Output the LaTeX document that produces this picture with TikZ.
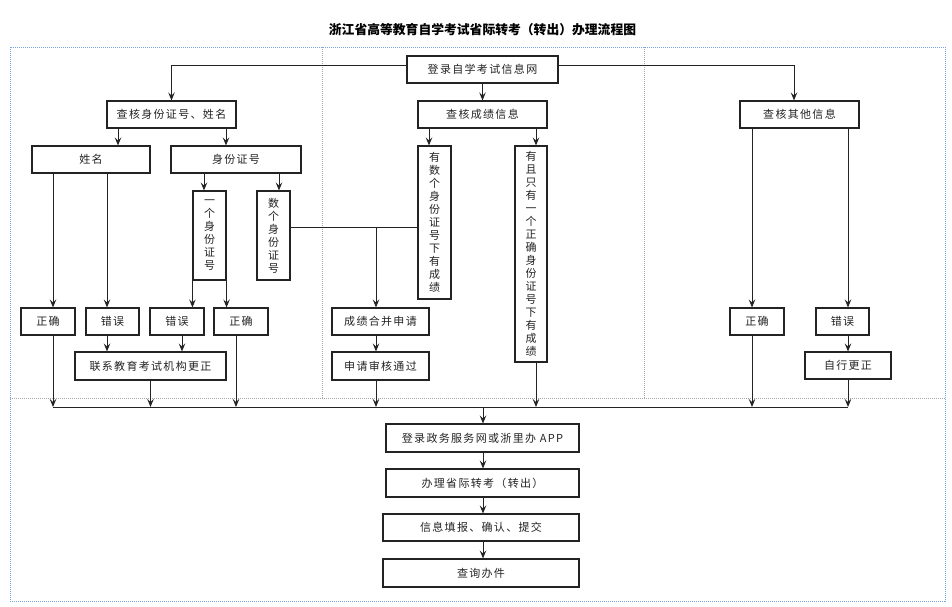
\documentclass[tikz,border=0pt]{standalone}
\usepackage{fontspec}
\newfontfamily\cjk[LetterSpace=12]{Noto Sans CJK SC}
\newfontfamily\cjkv{Noto Sans CJK SC}
\usetikzlibrary{arrows.meta}
\definecolor{framblue}{RGB}{120,165,225}
\definecolor{lanegray}{RGB}{165,165,165}
\definecolor{ink}{RGB}{35,35,35}

\tikzset{
  kuang/.style={draw=ink, line width=1.1pt, inner sep=0pt, text=ink,
    font=\cjk\fontsize{11}{13}\selectfont},
  shu/.style={kuang, font=\cjkv\fontsize{11}{13}\selectfont, align=center},
  jt/.style={draw=ink, line width=0.95pt, -{Stealth[length=8pt,width=6.5pt,inset=3pt]}},
  xian/.style={draw=ink, line width=0.95pt},
  dian/.style={line width=0.9pt, dash pattern=on 1pt off 1pt},
}

\begin{document}
\begin{tikzpicture}[x=1pt,y=-1pt]
  \useasboundingbox (0,0) rectangle (952,606);

  % Rahmen
  \draw[dian, framblue] (10,47) rectangle (945,601);
  \draw[dian, lanegray] (10,398) -- (945,398);
  \draw[dian, lanegray] (322,47) -- (322,398);
  \draw[dian, lanegray] (644,47) -- (644,398);

  \node[font=\cjkv\bfseries\fontsize{12.8}{14}\selectfont] (biaoti) at (482.5,30)
    {浙江省高等教育自学考试省际转考（转出）办理流程图};

  % obere Reihe
  \node[kuang, minimum width=151pt, minimum height=27pt] (dl) at (482.5,69.5) {登录自学考试信息网};
  \node[kuang, minimum width=129pt, minimum height=27pt] (hdsf) at (171.5,114.5) {查核身份证号、姓名};
  \node[kuang, minimum width=129pt, minimum height=27pt] (hdcj) at (482.5,114.5) {查核成绩信息};
  \node[kuang, minimum width=119pt, minimum height=27pt] (qt) at (799.5,114.5) {查核其他信息};

  % linke Spalte
  \node[kuang, minimum width=118pt, minimum height=27pt] (xm) at (91,159.5) {姓名};
  \node[kuang, minimum width=130pt, minimum height=27pt] (sfzh) at (236,159.5) {身份证号};
  \node[shu, minimum width=33pt, minimum height=89pt] (yg) at (209.5,235.5) {一\\个\\身\\份\\证\\号};
  \node[shu, minimum width=33pt, minimum height=89pt] (sg) at (273.5,235.5) {数\\个\\身\\份\\证\\号};
  \node[kuang, minimum width=54pt, minimum height=27pt] (zq1) at (48,321.5) {正确};
  \node[kuang, minimum width=53pt, minimum height=27pt] (cw1) at (112.5,321.5) {错误};
  \node[kuang, minimum width=54pt, minimum height=27pt] (cw2) at (177,321.5) {错误};
  \node[kuang, minimum width=54pt, minimum height=27pt] (zq2) at (241,321.5) {正确};
  \node[kuang, minimum width=151pt, minimum height=28pt] (lx) at (150.5,366) {联系教育考试机构更正};

  % mittlere Spalte
  \node[shu, minimum width=33pt, minimum height=153pt] (ysg) at (434.5,222.5)
    {有\\数\\个\\身\\份\\证\\号\\下\\有\\成\\绩};
  \node[shu, minimum width=32pt, minimum height=216pt] (yzq) at (531,254)
    {有\\且\\只\\有\\一\\个\\正\\确\\身\\份\\证\\号\\下\\有\\成\\绩};
  \node[kuang, minimum width=97pt, minimum height=27pt] (hb) at (380.5,321.5) {成绩合并申请};
  \node[kuang, minimum width=97pt, minimum height=28pt] (sh) at (380.5,366) {申请审核通过};

  % rechte Spalte
  \node[kuang, minimum width=54pt, minimum height=27pt] (zq3) at (757,321.5) {正确};
  \node[kuang, minimum width=53pt, minimum height=27pt] (cw3) at (842.5,321.5) {错误};
  \node[kuang, minimum width=86pt, minimum height=27pt] (zx) at (848,365.5) {自行更正};

  % untere Kette
  \node[kuang, minimum width=193pt, minimum height=28pt] (dl2) at (482.5,438) {登录政务服务网或浙里办 APP};
  \node[kuang, minimum width=193pt, minimum height=28pt] (bl) at (482.5,483) {办理省际转考（转出）};
  \node[kuang, minimum width=196pt, minimum height=27pt] (tb) at (481,527.5) {信息填报、确认、提交};
  \node[kuang, minimum width=196pt, minimum height=28pt] (cx) at (481,573) {查询办件};

  % Hilfspunkte
  \coordinate (dlA) at (0,65);
  \coordinate (qtA) at (794,0);
  \coordinate (xmA) at (118,0);
  \coordinate (sfA) at (226,0);
  \coordinate (cwA) at (107,0);
  \coordinate (ygA) at (204,0);
  \coordinate (sgA) at (279,0);
  \coordinate (cwB) at (182,0);
  \coordinate (zqB) at (236,0);
  \coordinate (ysA) at (429,0);
  \coordinate (yzA) at (536,0);
  \coordinate (hj) at (376,227);
  \coordinate (zqC) at (752,0);
  \coordinate (cwC) at (848,0);
  \coordinate (busL) at (53,407);
  \coordinate (busM) at (483,407);
  \coordinate (busR) at (848,407);

  % Verbindungen oben
  \draw[jt] (dl.west |- dlA) -| (hdsf.north);
  \draw[jt] (dl.east |- dlA) -| (qt.north -| qtA);
  \draw[jt] (dl.south) -- (hdcj.north);
  \draw[jt] (hdsf.south -| xmA) -- (xm.north -| xmA);
  \draw[jt] (hdsf.south -| sfA) -- (sfzh.north -| sfA);

  % links
  \draw[jt] (xm.south -| busL) -- (zq1.north -| busL);
  \draw[jt] (xm.south -| cwA) -- (cw1.north -| cwA);
  \draw[jt] (sfzh.south -| ygA) -- (yg.north -| ygA);
  \draw[jt] (sfzh.south -| sgA) -- (sg.north -| sgA);
  \draw[jt] (yg.south west) -- (cw2.north -| yg.south west);
  \draw[jt] (yg.south east) -- (zq2.north -| yg.south east);
  \draw[jt] (cw1.south -| cwA) -- (lx.north -| cwA);
  \draw[jt] (cw2.south -| cwB) -- (lx.north -| cwB);
  \draw[jt] (zq1.south -| busL) -- (busL);
  \draw[jt] (lx.south) -- (lx.south |- busL);
  \draw[jt] (zq2.south -| zqB) -- (busL -| zqB);

  % Mitte
  \draw[xian] (sg.east |- hj) -- (ysg.west |- hj);
  \draw[jt] (hj) -- (hb.north -| hj);
  \draw[jt] (hb.south -| hj) -- (sh.north -| hj);
  \draw[jt] (sh.south -| hj) -- (busL -| hj);
  \draw[jt] (hdcj.south -| ysA) -- (ysg.north -| ysA);
  \draw[jt] (hdcj.south -| yzA) -- (yzq.north -| yzA);
  \draw[jt] (yzq.south -| yzA) -- (busL -| yzA);

  % rechts
  \draw[jt] (qt.south -| zqC) -- (zq3.north -| zqC);
  \draw[jt] (qt.south -| cwC) -- (cw3.north -| cwC);
  \draw[jt] (cw3.south -| cwC) -- (zx.north -| cwC);
  \draw[jt] (zq3.south -| zqC) -- (busL -| zqC);
  \draw[jt] (zx.south) -- (busR);

  % Sammelleitung und Kette
  \draw[xian] (busL) -- (busR);
  \draw[jt] (busM) -- (dl2.north -| busM);
  \draw[jt] (dl2.south -| busM) -- (bl.north -| busM);
  \draw[jt] (bl.south -| busM) -- (tb.north -| busM);
  \draw[jt] (tb.south -| busM) -- (cx.north -| busM);
\end{tikzpicture}
\end{document}
